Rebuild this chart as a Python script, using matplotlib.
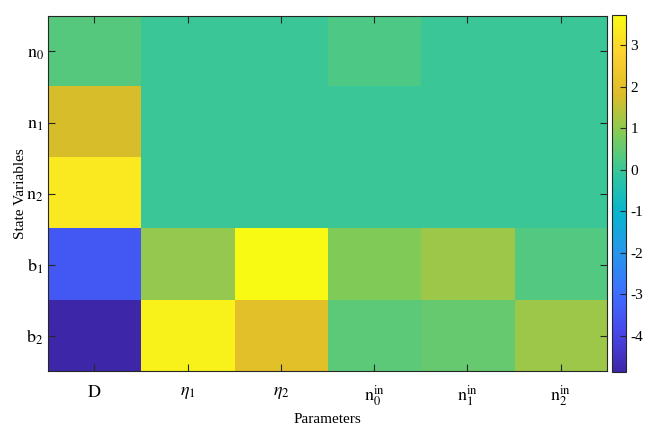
import numpy as np
import matplotlib
matplotlib.use("Agg")
import matplotlib.pyplot as plt
from matplotlib.colors import LinearSegmentedColormap

plt.rcParams['mathtext.fontset'] = 'stix'
plt.rcParams['font.family'] = ['Liberation Serif', 'DejaVu Serif']
plt.rcParams['axes.unicode_minus'] = False

# row / column labels
states = [r'$\mathrm{n}_0$', r'$\mathrm{n}_1$', r'$\mathrm{n}_2$', r'$\mathrm{b}_1$', r'$\mathrm{b}_2$']
params = [r'$\mathrm{D}$', r'$\eta_1$', r'$\eta_2$',
          r'$\mathrm{n}_0^{\mathrm{in}}$', r'$\mathrm{n}_1^{\mathrm{in}}$', r'$\mathrm{n}_2^{\mathrm{in}}$']

# sensitivity values
row_n0 = [0.35, 0.0, 0.0, 0.25, 0.0, 0.0]
row_n1 = [1.75, 0.0, 0.0, 0.0, 0.0, 0.0]
row_n2 = [3.3, 0.0, 0.0, 0.0, 0.0, 0.0]
row_b1 = [-3.5, 1.05, 3.72, 0.85, 1.15, 0.3]
row_b2 = [-4.87, 3.5, 2.0, 0.4, 0.55, 1.15]

cbar_ticks = [-4, -3, -2, -1, 0, 1, 2, 3]

# MATLAB parula(10)
parula_pts = [
    (0.2422, 0.1504, 0.6603),
    (0.2803, 0.2782, 0.9221),
    (0.2440, 0.4358, 0.9988),
    (0.1540, 0.5902, 0.9218),
    (0.0297, 0.7082, 0.8163),
    (0.1938, 0.7758, 0.6251),
    (0.5044, 0.7993, 0.3480),
    (0.8634, 0.7406, 0.1596),
    (0.9892, 0.8136, 0.1885),
    (0.9769, 0.9839, 0.0805),
]
parula = LinearSegmentedColormap.from_list('parula', parula_pts, N=256)

data = np.array([row_n0, row_n1, row_n2, row_b1, row_b2])

fig = plt.figure(figsize=(6.65, 4.32), dpi=100)
ax = fig.add_axes([0.072, 0.141, 0.841, 0.822])
cax = fig.add_axes([0.920, 0.139, 0.021, 0.826])

im = ax.imshow(data, cmap=parula, aspect='auto', interpolation='nearest',
               vmin=data.min(), vmax=data.max())

edge = '#262626'
ax.set_xticks(range(len(params)))
ax.set_xticklabels(params, fontsize=13)
ax.set_yticks(range(len(states)))
ax.set_yticklabels(states, fontsize=13)
ax.tick_params(direction='in', top=True, right=True, length=5, color=edge)
ax.tick_params(axis='x', pad=9)
ax.tick_params(axis='y', pad=3)
for s in ax.spines.values():
    s.set_color(edge)
    s.set_linewidth(0.8)
ax.set_xlabel('Parameters', fontsize=11)
ax.set_ylabel('State Variables', fontsize=11)
ax.xaxis.set_label_coords(0.5, -0.118)
ax.yaxis.set_label_coords(-0.037, 0.5)

cb = fig.colorbar(im, cax=cax, ticks=cbar_ticks)
cb.ax.tick_params(direction='in', length=4, color=edge, labelsize=11)
cb.outline.set_edgecolor(edge)
cb.outline.set_linewidth(0.8)

fig.savefig('out.png', dpi=100)
